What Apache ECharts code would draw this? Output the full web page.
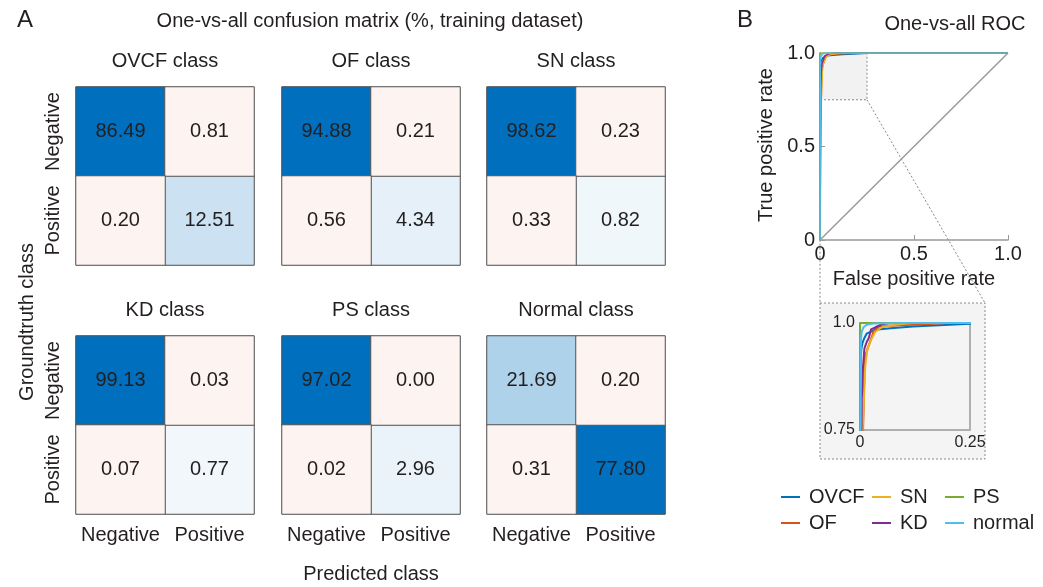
<!DOCTYPE html>
<html><head><meta charset="utf-8">
<script src="https://cdn.jsdelivr.net/npm/echarts@6/dist/echarts.min.js"></script>
<style>html,body{margin:0;padding:0;background:#fff}#c{width:1043px;height:587px}</style>
</head><body><div id="c"></div>
<script>
// ---------- data ----------
const classTitles = ['OVCF class','OF class','SN class','KD class','PS class','Normal class'];
const axisCats = ['Negative','Positive'];
// rows = groundtruth (Negative, Positive); cols = predicted (Negative, Positive)
const cmOVCF   = [[86.49, 0.81],[0.20, 12.51]];
const cmOF     = [[94.88, 0.21],[0.56, 4.34]];
const cmSN     = [[98.62, 0.23],[0.33, 0.82]];
const cmKD     = [[99.13, 0.03],[0.07, 0.77]];
const cmPS     = [[97.02, 0.00],[0.02, 2.96]];
const cmNormal = [[21.69, 0.20],[0.31, 77.80]];
const matrices = [cmOVCF, cmOF, cmSN, cmKD, cmPS, cmNormal];

const rocNames = ['OVCF','OF','SN','KD','PS','normal'];
const rocOVCF = [[0,0],[0,0.5],[0.001,0.9],[0.003,0.94],[0.006,0.955],[0.01,0.965],[0.015,0.975],[0.025,0.98],[0.04,0.985],[0.07,0.988],[0.12,0.992],[0.18,0.995],[0.25,0.998],[0.35,1],[1,1]];
const rocOF   = [[0,0],[0.004,0.5],[0.007,0.75],[0.011,0.92],[0.019,0.945],[0.027,0.968],[0.032,0.985],[0.045,0.992],[0.09,0.995],[0.15,0.997],[0.2,1],[1,1]];
const rocSN   = [[0,0],[0.003,0.5],[0.006,0.75],[0.012,0.9],[0.017,0.94],[0.025,0.96],[0.035,0.98],[0.05,0.99],[0.08,0.996],[0.12,1],[1,1]];
const rocKD   = [[0,0],[0.002,0.6],[0.004,0.82],[0.007,0.9],[0.01,0.94],[0.015,0.955],[0.02,0.965],[0.025,0.985],[0.035,0.99],[0.05,0.997],[0.07,1],[1,1]];
const rocPS   = [[0,0],[0,1],[1,1]];
const rocNormal = [[0,0],[0.001,0.5],[0.002,0.96],[0.004,0.98],[0.008,0.99],[0.015,0.996],[0.03,0.999],[0.1,1],[1,1]];
const rocData = [rocOVCF, rocOF, rocSN, rocKD, rocPS, rocNormal];
const chanceLine = [[0,0],[1,1]];
const zoomBox = [[0,0.75],[0.25,1]];

// ---------- styles ----------
const FONT = '"Liberation Sans", Arial, sans-serif';
const TXT = '#231F20';
const rocColors = ['#0072BD','#D95319','#EDB120','#7E2F8E','#77AC30','#4DBEEE'];

const chart = echarts.init(document.getElementById('c'), null, {renderer:'canvas'});

const gridLefts = [76, 282, 487];
const gridTops = [87, 336];
const grids = [], xAxes = [], yAxes = [], series = [];
const diagIdx = [], offIdx = [];

matrices.forEach((m, i) => {
  const col = i % 3, row = Math.floor(i / 3);
  grids.push({left: gridLefts[col], top: gridTops[row], width: 178, height: 178, show: true, borderColor: '#999', borderWidth: 1, containLabel: false});
  xAxes.push({type:'category', gridIndex:i, data: axisCats, axisLine:{show:false}, axisTick:{show:false}, splitLine:{show:false},
    axisLabel:{show: row === 1, interval:0, fontSize:20, color:TXT, fontFamily:FONT, margin:11}});
  yAxes.push({type:'category', gridIndex:i, data: axisCats, inverse:true, axisLine:{show:false}, axisTick:{show:false}, splitLine:{show:false},
    axisLabel:{show: col === 0, interval:0, rotate:90, fontSize:20, color:TXT, fontFamily:FONT, margin:13}});
  const lbl = {show:true, fontSize:20, color:TXT, fontFamily:FONT, formatter: p => p.value[2].toFixed(2)};
  diagIdx.push(series.length);
  series.push({type:'heatmap', xAxisIndex:i, yAxisIndex:i, silent:true,
    data:[[0,0,m[0][0]],[1,1,m[1][1]]], label: lbl, itemStyle:{borderColor:'#555', borderWidth:1}});
  offIdx.push(series.length);
  series.push({type:'heatmap', xAxisIndex:i, yAxisIndex:i, silent:true,
    data:[[1,0,m[0][1]],[0,1,m[1][0]]], label: lbl, itemStyle:{borderColor:'#555', borderWidth:1}});
});

// ROC main grid (index 6) and inset grid (index 7)
grids.push({left:820, top:53, width:188, height:187, show:false});
grids.push({left:860, top:323, width:110, height:107, show:true, borderColor:'#b0b0b0', borderWidth:2, backgroundColor:'transparent'});
const fmt1 = v => v === 0 ? '0' : v.toFixed(1);
xAxes.push({type:'value', gridIndex:6, min:0, max:1, interval:0.5,
  axisLine:{lineStyle:{color:'#999', width:1.5}}, axisTick:{inside:true, length:5, lineStyle:{color:'#999'}},
  splitLine:{show:false}, axisLabel:{fontSize:20, color:TXT, fontFamily:FONT, margin:4, formatter: fmt1}});
yAxes.push({type:'value', gridIndex:6, min:0, max:1, interval:0.5,
  axisLine:{lineStyle:{color:'#999', width:1.5}}, axisTick:{inside:true, length:5, lineStyle:{color:'#999'}},
  splitLine:{show:false}, axisLabel:{fontSize:20, color:TXT, fontFamily:FONT, margin:5, formatter: fmt1}});
xAxes.push({type:'value', gridIndex:7, min:0, max:0.25, interval:0.25,
  axisLine:{lineStyle:{color:'#b0b0b0', width:2}}, axisTick:{show:false}, splitLine:{show:false},
  axisLabel:{fontSize:16, color:TXT, fontFamily:FONT, margin:5, formatter: v => v === 0 ? '0' : String(v)}});
yAxes.push({type:'value', gridIndex:7, min:0.75, max:1, interval:0.25,
  axisLine:{lineStyle:{color:'#b0b0b0', width:2}}, axisTick:{show:false}, splitLine:{show:false},
  axisLabel:{fontSize:16, color:TXT, fontFamily:FONT, margin:5, formatter: v => v === 1 ? '1.0' : String(v)}});

series.push({type:'line', name:'chance', xAxisIndex:6, yAxisIndex:6, data: chanceLine, symbol:'none', silent:true,
  lineStyle:{color:'#9a9a9a', width:1.5}, z:1,
  markArea:{silent:true, itemStyle:{color:'#F2F2F2', borderColor:'#888', borderWidth:1, borderType:[2,2]},
    data:[[{coord: zoomBox[0]},{coord: zoomBox[1]}]]}});
rocData.forEach((d, k) => {
  series.push({type:'line', name: rocNames[k], xAxisIndex:6, yAxisIndex:6, data:d, symbol:'none', silent:true,
    color: rocColors[k], lineStyle:{color: rocColors[k], width:1.5}, z:3+k});
});
rocData.forEach((d, k) => {
  series.push({type:'line', name: rocNames[k], xAxisIndex:7, yAxisIndex:7, data:d, symbol:'none', silent:true, clip:true,
    color: rocColors[k], lineStyle:{color: rocColors[k], width:2}, z:3+k});
});

const legendBase = {orient:'vertical', top:487, itemWidth:19, itemHeight:2, icon:'rect', itemGap:6, padding:0, selectedMode:false,
  textStyle:{fontSize:20, color:TXT, fontFamily:FONT, padding:[0,0,0,4]}};
const legends = [
  Object.assign({}, legendBase, {left:781, data:['OVCF','OF']}),
  Object.assign({}, legendBase, {left:872, data:['SN','KD']}),
  Object.assign({}, legendBase, {left:945, data:['PS','normal']})
];

function txt(text, x, y, size, rot) {
  return {type:'text', x:x, y:y, rotation: rot || 0, silent:true,
    style:{text:text, fontSize:size, fill:TXT, fontFamily:FONT, textAlign:'center', textVerticalAlign:'middle'}};
}
const texts = [
  txt('A', 25, 20, 24),
  txt('One-vs-all confusion matrix (%, training dataset)', 370, 21, 20),
  txt('Groundtruth class', 27, 322, 20, Math.PI/2),
  txt('Predicted class', 371, 574, 20),
  txt('B', 745, 20, 24),
  txt('One-vs-all ROC', 955, 24, 20),
  txt('True positive rate', 766, 145, 20, Math.PI/2),
  txt('False positive rate', 914, 279, 20)
];
classTitles.forEach((t, i) => {
  const col = i % 3, row = Math.floor(i / 3);
  texts.push(txt(t, gridLefts[col] + 89, gridTops[row] - 26, 20));
});

chart.setOption({
  animation:false,
  backgroundColor:'#fff',
  grid: grids, xAxis: xAxes, yAxis: yAxes,
  visualMap:[
    {type:'continuous', show:false, seriesIndex: diagIdx, dimension:2, min:0, max:78, inRange:{color:['#F3F8FC','#0070BE']}},
    {type:'piecewise', show:false, seriesIndex: offIdx, dimension:2, pieces:[{min:-1, max:101, color:'#FDF3F0'}]}
  ],
  legend: legends,
  series: series,
  graphic: texts
});

// inset frame and connector lines
const insetBox = {x:820, y:303, w:165, h:156};
const pA = chart.convertToPixel({gridIndex:6}, [zoomBox[0][0], zoomBox[0][1]]);
const pB = chart.convertToPixel({gridIndex:6}, [zoomBox[1][0], zoomBox[0][1]]);
const dash = {stroke:'#888', lineWidth:1, lineDash:[2,2]};
chart.setOption({
  graphic: texts.concat([
    {type:'rect', z:-10, silent:true, shape:{x:insetBox.x, y:insetBox.y, width:insetBox.w, height:insetBox.h},
      style:Object.assign({fill:'#F4F4F4'}, dash)},
    {type:'line', silent:true, shape:{x1:pA[0], y1:pA[1], x2:insetBox.x, y2:insetBox.y}, style:dash},
    {type:'line', silent:true, shape:{x1:pB[0], y1:pB[1], x2:insetBox.x + insetBox.w, y2:insetBox.y}, style:dash}
  ])
});
</script>
</body></html>
